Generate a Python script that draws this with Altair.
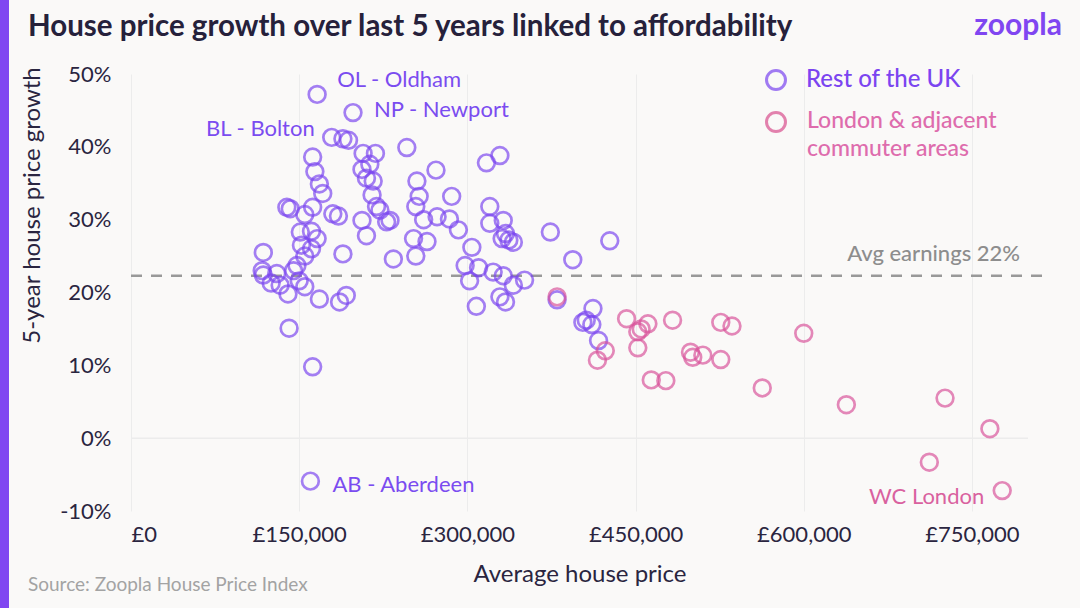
import altair as alt
import pandas as pd

# ---- data (x in £000s, y in % growth) ----
rest_x = [166, 198, 179, 189, 194, 207, 218, 213, 206, 210, 216, 215, 219, 222, 206, 228, 231, 210,
          162, 164, 168, 171, 139, 142, 162, 155, 180, 185, 151, 161, 166, 152, 161, 155, 148, 145,
          189, 234, 118, 117, 118, 130, 125, 133, 140, 150, 155, 168, 186, 192, 141, 162, 160,
          246, 317, 329, 272, 255, 257, 254, 286, 261, 273, 284, 292, 320, 320, 332, 334, 331, 337,
          341, 374, 252, 264, 254, 304, 298, 310, 302, 323, 332, 341, 351, 329, 334, 308,
          394, 427, 380, 412, 403, 406, 411, 417]
rest_y = [47.2, 44.7, 41.3, 41.1, 40.9, 39.1, 39.1, 37.6, 36.9, 35.7, 35.3, 33.4, 31.8, 31.3, 29.9, 29.7, 29.9, 27.8,
          38.6, 36.6, 34.9, 33.6, 31.7, 31.5, 31.7, 30.7, 30.8, 30.5, 28.3, 28.4, 27.4, 26.5, 26.0, 25.0, 23.7, 23.0,
          25.3, 24.6, 25.5, 23.0, 22.4, 22.6, 21.3, 21.0, 19.8, 21.6, 20.8, 19.1, 18.7, 19.6, 15.1, 9.8, -5.9,
          39.9, 37.8, 38.8, 36.8, 35.3, 33.2, 31.8, 33.2, 30.0, 30.4, 30.1, 28.6, 31.8, 29.5, 29.9, 28.1, 27.4, 27.2,
          26.9, 28.3, 27.4, 27.0, 25.0, 26.2, 23.7, 23.4, 21.6, 22.8, 22.3, 21.0, 21.7, 19.4, 18.7, 18.1,
          24.5, 27.1, 19.0, 17.8, 15.9, 16.2, 15.6, 13.4]
london_x = [380, 416, 423, 442, 452, 455, 461, 452, 483, 464, 477, 499, 501, 510, 526, 536, 526,
            563, 600, 638, 726, 766, 712, 777]
london_y = [19.4, 10.7, 12.0, 16.4, 14.6, 15.0, 15.7, 12.4, 16.2, 8.0, 7.9, 11.8, 11.1, 11.4, 15.9, 15.4, 10.8,
            6.9, 14.4, 4.6, 5.5, 1.3, -3.3, -7.2]

labels = {("Rest of the UK", 0): "OL - Oldham",
          ("Rest of the UK", 1): "NP - Newport",
          ("Rest of the UK", 2): "BL - Bolton",
          ("Rest of the UK", 52): "AB - Aberdeen",
          ("London & adjacent commuter areas", 23): "WC London"}

avg_earnings = [22.3]
x_ticks = [0, 150000, 300000, 450000, 600000, 750000]
y_ticks = [-10, 0, 10, 20, 30, 40, 50]

groups = ["Rest of the UK", "London & adjacent commuter areas"]
PURPLE = "#7a45f0"
PINK = "#d9529a"
FONT = "Lato"
DARK = "#2a2540"

rows = []
for i, (x, y) in enumerate(zip(rest_x, rest_y)):
    rows.append({"price": x * 1000, "growth": y, "group": groups[0], "label": labels.get((groups[0], i), "")})
for i, (x, y) in enumerate(zip(london_x, london_y)):
    rows.append({"price": x * 1000, "growth": y, "group": groups[1], "label": labels.get((groups[1], i), "")})
df = pd.DataFrame(rows)

W, H = 897, 437

xscale = alt.Scale(domain=[0, 800000], nice=False)
yscale = alt.Scale(domain=[-10, 50], nice=False)
xaxis = alt.Axis(values=x_ticks, labelExpr="'£' + format(datum.value, ',')", domain=False, ticks=False,
                 grid=True, gridColor="#ececec", gridWidth=1, labelFontSize=22, labelColor=DARK,
                 labelFont=FONT, labelPadding=13, title="Average house price", titleFontSize=24,
                 titleFontWeight="normal", titleColor=DARK, titleFont=FONT, titlePadding=17)
yaxis = alt.Axis(values=y_ticks, labelExpr="datum.value + '%'", domain=False, ticks=False, grid=False,
                 labelFontSize=22, labelColor=DARK, labelFont=FONT, labelPadding=20,
                 title="5-year house price growth", titleFontSize=24, titleFontWeight="normal",
                 titleColor=DARK, titleFont=FONT, titleX=-87, titleY=131)

X = alt.X("price:Q", scale=xscale, axis=xaxis)
Y = alt.Y("growth:Q", scale=yscale, axis=yaxis)

color = alt.Color("group:N", scale=alt.Scale(domain=groups, range=[PURPLE, PINK]), legend=None)

points = alt.Chart(df).mark_point(shape="circle", filled=False, size=280, strokeWidth=2.7, opacity=0.68).encode(
    x=X, y=Y, color=color)

zero_df = pd.DataFrame({"growth": [0]})
zero_rule = alt.Chart(zero_df).mark_rule(color="#ececec", strokeWidth=1.5).encode(
    y=Y, x=alt.value(0), x2=alt.value(W))

avg_df = pd.DataFrame({"growth": avg_earnings})
avg_rule = alt.Chart(avg_df).mark_rule(color="#999999", strokeWidth=2.7, strokeDash=[11, 9]).encode(
    y=Y, x=alt.value(0), x2=alt.value(W + 22))
avg_text = alt.Chart(avg_df).mark_text(align="right", baseline="middle", dy=-22, fontSize=22,
                                       font=FONT, color="#8d8d8d", fontWeight=500).encode(
    y=Y, x=alt.value(889), text=alt.value("Avg earnings 22%"))

def annot(name, align, dx, dy, col):
    return alt.Chart(df).transform_filter(alt.datum.label == name).mark_text(
        align=align, baseline="middle", dx=dx, dy=dy, fontSize=22, font=FONT, color=col).encode(
        x=X, y=Y, text="label:N")

annots = [annot("OL - Oldham", "left", 20, -14, "#7b4cf0"),
          annot("NP - Newport", "left", 21, -3, "#7b4cf0"),
          annot("BL - Bolton", "right", -17, -8, "#7b4cf0"),
          annot("AB - Aberdeen", "left", 22, 4, "#7b4cf0"),
          annot("WC London", "right", -18, 6, "#d9619f")]

one = pd.DataFrame({"a": [0]})
base = alt.Chart(one)

leg = [
    base.mark_point(shape="circle", filled=False, size=360, strokeWidth=3, color=PURPLE).encode(
        x=alt.value(645), y=alt.value(6)),
    base.mark_point(shape="circle", filled=False, size=360, strokeWidth=3, color="#d94f8e").encode(
        x=alt.value(645), y=alt.value(48)),
    base.mark_text(align="left", baseline="middle", fontSize=24, font=FONT, color="#7b45f0", fontWeight=500).encode(
        x=alt.value(675), y=alt.value(6), text=alt.value("Rest of the UK")),
    base.mark_text(align="left", baseline="middle", fontSize=23, font=FONT, color="#de6cad", fontWeight=500).encode(
        x=alt.value(676), y=alt.value(47), text=alt.value("London & adjacent")),
    base.mark_text(align="left", baseline="middle", fontSize=23, font=FONT, color="#de6cad", fontWeight=500).encode(
        x=alt.value(676), y=alt.value(75), text=alt.value("commuter areas")),
]

decor = [
    base.mark_rect(color="#8046F1").encode(x=alt.value(-131), x2=alt.value(-122), y=alt.value(-74), y2=alt.value(534)),
    base.mark_text(align="left", baseline="middle", fontSize=29.5, font=FONT, fontWeight="bold", color="#26213b").encode(
        x=alt.value(-103), y=alt.value(-47), text=alt.value("House price growth over last 5 years linked to affordability")),
    base.mark_text(align="right", baseline="middle", fontSize=30, font=FONT, fontWeight="bold", color="#8046F1").encode(
        x=alt.value(931), y=alt.value(-48), text=alt.value("zoopla")),
    base.mark_text(align="left", baseline="middle", fontSize=19, font=FONT, color="#a3a3a3").encode(
        x=alt.value(-103), y=alt.value(511), text=alt.value("Source: Zoopla House Price Index")),
]

chart = alt.layer(zero_rule, avg_rule, points, avg_text, *annots, *leg, *decor).properties(
    width=W, height=H,
    autosize=alt.AutoSizeParams(type="none"),
    padding={"left": 131, "top": 74, "right": 52, "bottom": 97},
    background="#FAF9F8",
).configure_view(stroke=None)

chart.save("out.html", embed_options={"renderer": "svg", "actions": False})
